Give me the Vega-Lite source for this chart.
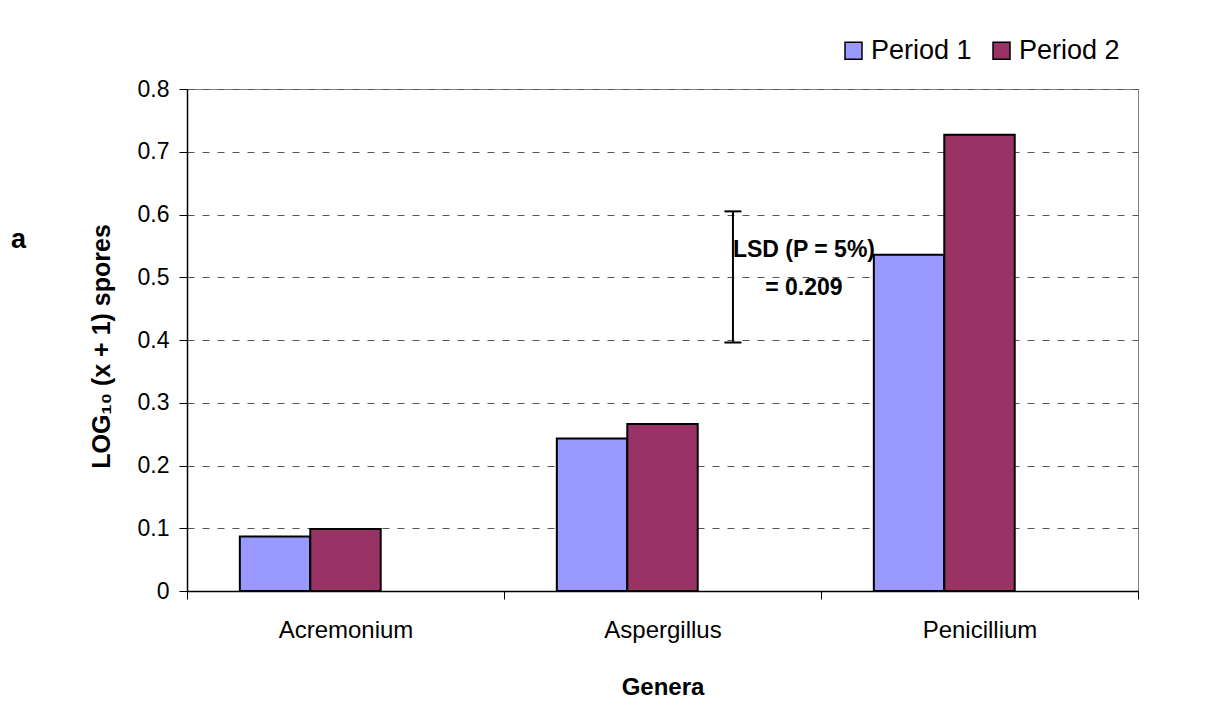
{
  "$schema": "https://vega.github.io/schema/vega-lite/v6.json",
  "autosize": "none",
  "width": 951,
  "height": 502,
  "padding": {"left": 187, "top": 89, "right": 85, "bottom": 120},
  "background": "white",
  "config": {
    "font": "Liberation Sans",
    "view": {"stroke": "#808080", "strokeWidth": 1}
  },
  "title": {
    "text": "a",
    "orient": "left",
    "anchor": "end",
    "frame": "group",
    "angle": 0,
    "align": "right",
    "baseline": "alphabetic",
    "fontSize": 27,
    "fontWeight": "bold",
    "color": "black",
    "offset": 48,
    "dy": 159
  },
  "datasets": {
    "spores": [
      {"genus": "Acremonium", "period": "Period 1", "value": 0.087},
      {"genus": "Acremonium", "period": "Period 2", "value": 0.099},
      {"genus": "Aspergillus", "period": "Period 1", "value": 0.243},
      {"genus": "Aspergillus", "period": "Period 2", "value": 0.266},
      {"genus": "Penicillium", "period": "Period 1", "value": 0.536},
      {"genus": "Penicillium", "period": "Period 2", "value": 0.727}
    ],
    "lsd": [
      {"genus": "Aspergillus", "slot": "LSD", "lo": 0.396, "hi": 0.605, "label": ["LSD (P = 5%)", "= 0.209"]}
    ]
  },
  "layer": [
    {
      "data": {"name": "spores"},
      "mark": {"type": "bar", "stroke": "black", "strokeWidth": 2},
      "encoding": {
        "x": {
          "field": "genus",
          "type": "nominal",
          "sort": ["Acremonium", "Aspergillus", "Penicillium"],
          "scale": {"paddingInner": 0, "paddingOuter": 0},
          "axis": {
            "title": "Genera",
            "tickBand": "extent",
            "tickSize": 8,
            "tickColor": "black",
            "domainColor": "black",
            "domainWidth": 1.5,
            "labelAngle": 0,
            "labelFontSize": 24,
            "labelColor": "black",
            "labelPadding": 19,
            "titleFontSize": 24,
            "titleFontWeight": "bold",
            "titleColor": "black",
            "titlePadding": 33
          }
        },
        "xOffset": {
          "field": "period",
          "type": "nominal",
          "scale": {"domain": ["Period 1", "Period 2", "LSD"], "paddingInner": 0, "paddingOuter": 0.75}
        },
        "y": {
          "field": "value",
          "type": "quantitative",
          "scale": {"domain": [0, 0.8]},
          "axis": {
            "title": "LOG₁₀ (x + 1) spores",
            "values": [0, 0.1, 0.2, 0.3, 0.4, 0.5, 0.6, 0.7, 0.8],
            "format": "~g",
            "grid": true,
            "gridColor": "#555555",
            "gridDash": [7, 8],
            "gridWidth": 1,
            "tickSize": 8,
            "tickColor": "black",
            "domainColor": "black",
            "domainWidth": 1.5,
            "labelFontSize": 23,
            "labelColor": "black",
            "labelPadding": 10,
            "titleFontSize": 25,
            "titleFontWeight": "bold",
            "titleColor": "black",
            "titlePadding": 23,
            "titleY": 257
          }
        },
        "color": {
          "field": "period",
          "type": "nominal",
          "scale": {"domain": ["Period 1", "Period 2"], "range": ["#9999FF", "#993366"]},
          "legend": {
            "title": null,
            "orient": "none",
            "legendX": 653,
            "legendY": -52,
            "direction": "horizontal",
            "padding": 0,
            "symbolType": "square",
            "symbolSize": 289,
            "symbolStrokeColor": "black",
            "symbolStrokeWidth": 1.5,
            "symbolOpacity": 1,
            "labelFontSize": 27,
            "labelColor": "black",
            "labelOffset": 4,
            "labelLimit": 300,
            "columnPadding": 16
          }
        }
      }
    },
    {
      "data": {"name": "lsd"},
      "mark": {"type": "rule", "stroke": "black", "strokeWidth": 2},
      "encoding": {
        "x": {"field": "genus", "type": "nominal"},
        "xOffset": {"field": "slot", "type": "nominal"},
        "y": {"field": "lo", "type": "quantitative"},
        "y2": {"field": "hi"}
      }
    },
    {
      "data": {"name": "lsd"},
      "mark": {"type": "tick", "orient": "horizontal", "size": 17, "thickness": 2, "color": "black", "opacity": 1},
      "encoding": {
        "x": {"field": "genus", "type": "nominal"},
        "xOffset": {"field": "slot", "type": "nominal"},
        "y": {"field": "lo", "type": "quantitative"}
      }
    },
    {
      "data": {"name": "lsd"},
      "mark": {"type": "tick", "orient": "horizontal", "size": 17, "thickness": 2, "color": "black", "opacity": 1},
      "encoding": {
        "x": {"field": "genus", "type": "nominal"},
        "xOffset": {"field": "slot", "type": "nominal"},
        "y": {"field": "hi", "type": "quantitative"}
      }
    },
    {
      "data": {"name": "lsd"},
      "mark": {
        "type": "text",
        "fontSize": 23,
        "fontWeight": "bold",
        "align": "center",
        "baseline": "middle",
        "lineHeight": 38,
        "dx": 71,
        "dy": 39,
        "color": "black"
      },
      "encoding": {
        "x": {"field": "genus", "type": "nominal"},
        "xOffset": {"field": "slot", "type": "nominal"},
        "y": {"field": "hi", "type": "quantitative"},
        "text": {"field": "label"}
      }
    }
  ]
}
